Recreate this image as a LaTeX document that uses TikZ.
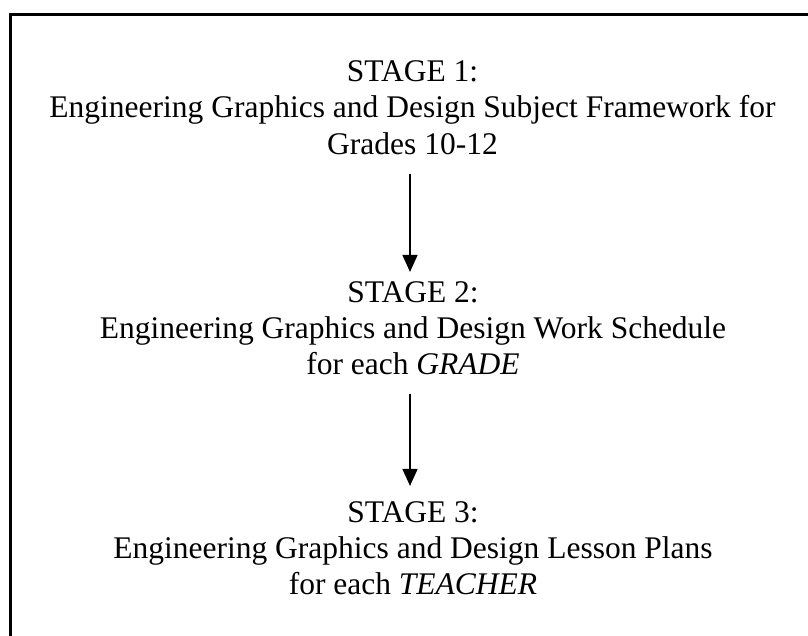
\documentclass[tikz,border=0pt]{standalone}
\usepackage{fontspec}
\setmainfont{Liberation Serif}
\usetikzlibrary{arrows.meta}
\begin{document}
\begin{tikzpicture}[x=1pt,y=-1pt,
  txt/.style={anchor=base,inner sep=0pt,font=\fontsize{31.5}{36}\selectfont},
  arr/.style={line width=1.4pt,-{Triangle[length=17pt,width=15pt]}},
  frame/.style={line width=3pt}]
\useasboundingbox (0,0) rectangle (808,635);
\clip (0,0) rectangle (808,635);
\draw[frame] (10.5,700) -- (10.5,14) -- (830,14);
% Stage 1
\node[txt] (s1a) at (412.5,81) {STAGE 1:};
\node[txt] (s1b) at (412.5,117.5) {Engineering Graphics and Design Subject Framework for};
\node[txt] (s1c) at (412.5,154) {Grades 10-12};
% Stage 2
\node[txt] (s2a) at (413,302) {STAGE 2:};
\node[txt] (s2b) at (413,338) {Engineering Graphics and Design Work Schedule};
\node[txt] (s2c) at (413,374) {for each \textit{GRADE}};
% Stage 3
\node[txt] (s3a) at (413,522) {STAGE 3:};
\node[txt] (s3b) at (413,558) {Engineering Graphics and Design Lesson Plans};
\node[txt] (s3c) at (413,594) {for each \textit{TEACHER}};
% arrows
\draw[arr] ([xshift=-2.5pt,yshift=-19pt]s1c.south) -- ([xshift=-3pt,yshift=9pt]s2a.north);
\draw[arr] ([xshift=-3pt,yshift=-19pt]s2c.south) -- ([xshift=-3pt,yshift=15pt]s3a.north);
\end{tikzpicture}
\end{document}
